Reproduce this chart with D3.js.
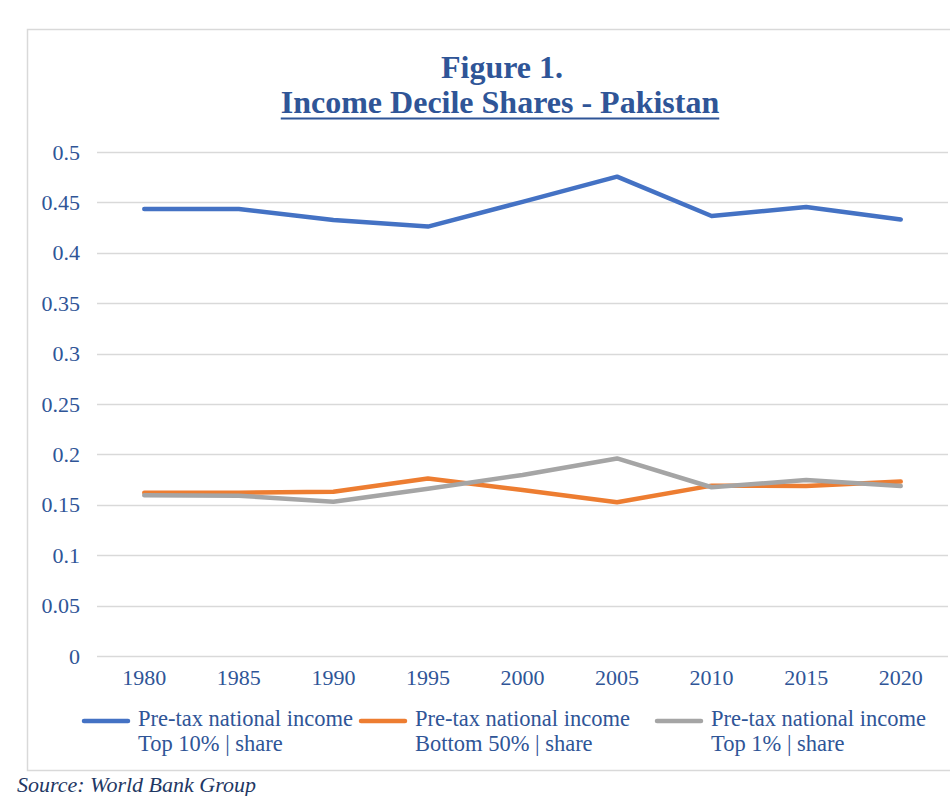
<!DOCTYPE html>
<html>
<head>
<meta charset="utf-8">
<script src="https://cdn.jsdelivr.net/npm/d3@7"></script>
<style>
    body { margin: 0; background: #fff; }
    svg { display: block; }
</style>
</head>
<body>
<script>
var years = [ "1980", "1985", "1990", "1995", "2000", "2005", "2010", "2015", "2020" ];
var top10 = [ 0.4435, 0.4435, 0.4325, 0.426, 0.4505, 0.4755, 0.4365, 0.4455, 0.433 ];
var bottom50 = [ 0.162, 0.162, 0.163, 0.176, 0.1647, 0.1525, 0.169, 0.1686, 0.173 ];
var top1 = [ 0.1594, 0.159, 0.153, 0.166, 0.1796, 0.196, 0.1674, 0.1746, 0.1686 ];
var yTicks = [ 0, 0.05, 0.1, 0.15, 0.2, 0.25, 0.3, 0.35, 0.4, 0.45, 0.5 ];
var seriesNames = [
    [ "Pre-tax national income", "Top 10% | share" ],
    [ "Pre-tax national income", "Bottom 50% | share" ],
    [ "Pre-tax national income", "Top 1% | share" ]
];

var width = 950;
var height = 796;
var textBlue = "#2f5597";
var font = "'Liberation Serif', 'Times New Roman', serif";
var colors = [ "#4472c4", "#ed7d31", "#a5a5a5" ];

var svg = d3.select( "body" )
    .append( "svg" )
    .attr( "width", width )
    .attr( "height", height );

// chart frame, runs past the right edge like the screenshot
svg.append( "rect" )
    .attr( "x", 27.5 )
    .attr( "y", 29.5 )
    .attr( "width", 940 )
    .attr( "height", 741 )
    .attr( "fill", "#fff" )
    .attr( "stroke", "#d9d9d9" )
    .attr( "stroke-width", 1.5 );

var x = d3.scaleBand()
    .domain( years )
    .range( [ 97, 948 ] );

var y = d3.scaleLinear()
    .domain( [ 0, 0.5 ] )
    .range( [ 656, 152 ] );

// gridlines
svg.append( "g" )
    .selectAll( "line" )
    .data( yTicks )
    .enter()
    .append( "line" )
    .attr( "x1", 97 )
    .attr( "x2", 948 )
    .attr( "y1", function( d ) { return Math.round( y( d ) ) + 0.5; } )
    .attr( "y2", function( d ) { return Math.round( y( d ) ) + 0.5; } )
    .attr( "stroke", "#d9d9d9" )
    .attr( "stroke-width", 1.5 );

// y axis labels
var yAxis = d3.axisLeft( y )
    .tickValues( yTicks )
    .tickSize( 0 )
    .tickPadding( 0 )
    .tickFormat( function( d ) { return String( +d.toFixed( 2 ) ); } );

var gy = svg.append( "g" )
    .attr( "transform", "translate(80,0)" )
    .call( yAxis );
gy.select( ".domain" ).remove();
gy.selectAll( "text" )
    .attr( "fill", textBlue )
    .style( "font-family", font )
    .style( "font-size", "22px" );

// x axis labels
var xAxis = d3.axisBottom( x )
    .tickSize( 0 )
    .tickPadding( 0 );

var gx = svg.append( "g" )
    .attr( "transform", "translate(0,656)" )
    .call( xAxis );
gx.select( ".domain" ).remove();
gx.selectAll( "text" )
    .attr( "dy", null )
    .attr( "y", 29 )
    .attr( "fill", textBlue )
    .style( "font-family", font )
    .style( "font-size", "22px" );

// lines
var line = d3.line()
    .x( function( d, i ) { return x( years[ i ] ) + x.bandwidth() / 2; } )
    .y( function( d ) { return y( d ); } );

svg.append( "g" )
    .selectAll( "path" )
    .data( [ top10, bottom50, top1 ] )
    .enter()
    .append( "path" )
    .attr( "d", line )
    .attr( "fill", "none" )
    .attr( "stroke", function( d, i ) { return colors[ i ]; } )
    .attr( "stroke-width", 4.5 )
    .attr( "stroke-linecap", "round" )
    .attr( "stroke-linejoin", "round" );

// title
var title = svg.append( "g" )
    .attr( "fill", textBlue )
    .style( "font-family", font )
    .style( "font-weight", "bold" )
    .style( "font-size", "32px" )
    .attr( "text-anchor", "middle" );

title.append( "text" )
    .attr( "x", 502 )
    .attr( "y", 78 )
    .text( "Figure 1." );

var sub = title.append( "text" )
    .attr( "x", 500 )
    .attr( "y", 113 )
    .text( "Income Decile Shares - Pakistan" );

var subW = sub.node().getComputedTextLength();
svg.append( "line" )
    .attr( "x1", 500 - subW / 2 )
    .attr( "x2", 500 + subW / 2 )
    .attr( "y1", 118.5 )
    .attr( "y2", 118.5 )
    .attr( "stroke", textBlue )
    .attr( "stroke-width", 2 );

// legend
var legendX = [ 82, 359, 655 ];

var legend = svg.selectAll( "g.legry" )
    .data( seriesNames )
    .enter()
    .append( "g" )
    .attr( "class", "legry" )
    .attr( "transform", function( d, i ) { return "translate(" + legendX[ i ] + ",0)"; } );

legend.append( "line" )
    .attr( "x1", 2 )
    .attr( "x2", 46 )
    .attr( "y1", 721 )
    .attr( "y2", 721 )
    .attr( "stroke", function( d, i ) { return colors[ i ]; } )
    .attr( "stroke-width", 4.5 )
    .attr( "stroke-linecap", "round" );

legend.append( "text" )
    .attr( "x", 56 )
    .attr( "y", 726 )
    .attr( "fill", textBlue )
    .style( "font-family", font )
    .style( "font-size", "22.5px" )
    .text( function( d ) { return d[ 0 ]; } );

legend.append( "text" )
    .attr( "x", 56 )
    .attr( "y", 751 )
    .attr( "fill", textBlue )
    .style( "font-family", font )
    .style( "font-size", "22.5px" )
    .text( function( d ) { return d[ 1 ]; } );

// source note
svg.append( "text" )
    .attr( "x", 17 )
    .attr( "y", 792 )
    .attr( "fill", "#1f3864" )
    .style( "font-family", font )
    .style( "font-style", "italic" )
    .style( "font-size", "22px" )
    .text( "Source: World Bank Group" );
</script>
</body>
</html>
